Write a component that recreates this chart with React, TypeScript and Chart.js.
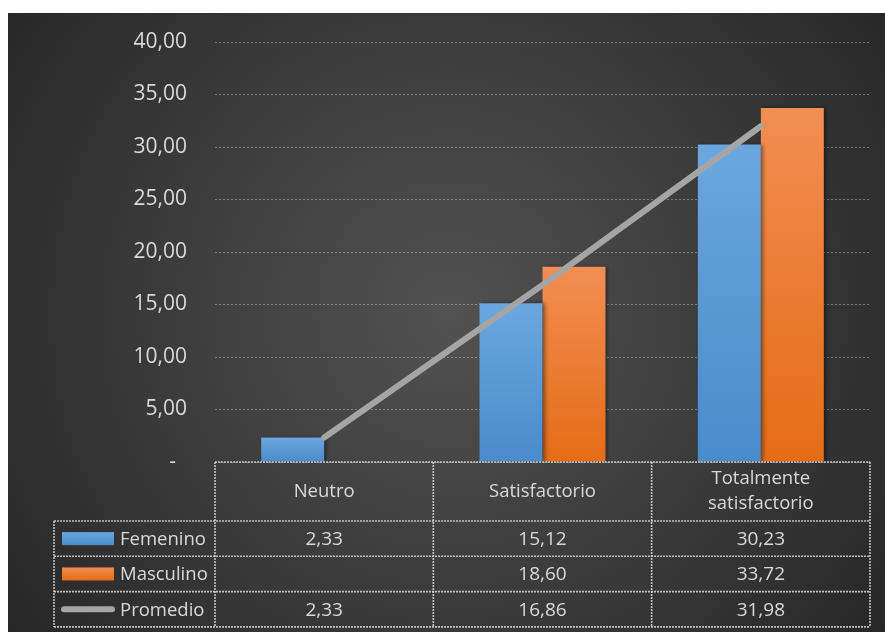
import React, { useEffect, useRef } from "react";
import { Chart, registerables } from "chart.js";

Chart.register(...registerables);

const categories: (string | string[])[] = ["Neutro", "Satisfactorio", ["Totalmente", "satisfactorio"]];
const femenino: (number | null)[] = [2.33, 15.12, 30.23];
const masculino: (number | null)[] = [null, 18.6, 33.72];
const promedio: (number | null)[] = [2.33, 16.86, 31.98];
const yTicks = { min: 0, max: 40, step: 5 };

const FONT = "'Open Sans', 'DejaVu Sans', sans-serif";
const TEXT = "#D9D9D9";
const BLUE_TOP = "#6BA7DF";
const BLUE_BOT = "#4A8BCB";
const ORANGE_TOP = "#F28E52";
const ORANGE_BOT = "#E46C16";
const LINE = "#A5A5A5";

const fmt = (v: number | null) => (v === null || v === undefined ? "" : v.toFixed(2).replace(".", ","));

function barGradient(top: string, bot: string) {
  return (ctx: any) => {
    const chart = ctx.chart;
    const ys = chart.scales?.y;
    const v = ctx.raw;
    if (!ys || v === null || v === undefined || ctx.type !== "data") return bot;
    const y0 = ys.getPixelForValue(v);
    const y1 = ys.getPixelForValue(0);
    if (!isFinite(y0) || !isFinite(y1) || y0 === y1) return bot;
    const g = chart.ctx.createLinearGradient(0, y0, 0, y1);
    g.addColorStop(0, top);
    g.addColorStop(1, bot);
    return g;
  };
}

const bgPlugin = {
  id: "bg",
  beforeDraw(chart: any) {
    const { ctx, width, height } = chart;
    ctx.save();
    const g = ctx.createRadialGradient(440, 300, 0, 440, 300, 580);
    g.addColorStop(0, "#525252");
    g.addColorStop(1, "#242424");
    ctx.fillStyle = g;
    ctx.fillRect(0, 0, width, height);
    ctx.restore();
  },
};

const shadowPlugin = {
  id: "barShadow",
  beforeDatasetDraw(chart: any, args: any) {
    if (chart.data.datasets[args.index].type === "bar") {
      const ctx = chart.ctx;
      ctx.save();
      ctx.shadowColor = "rgba(0,0,0,0.45)";
      ctx.shadowBlur = 4;
      ctx.shadowOffsetX = 2;
      ctx.shadowOffsetY = 0;
    }
  },
  afterDatasetDraw(chart: any, args: any) {
    if (chart.data.datasets[args.index].type === "bar") chart.ctx.restore();
  },
};

const tablePlugin = {
  id: "dataTable",
  afterDraw(chart: any) {
    const { ctx, chartArea: a } = chart;
    const xs = chart.scales.x;
    const n = categories.length;
    const colW = (a.right - a.left) / n;
    const headTop = a.bottom;
    const headBot = headTop + 59;
    const rowH = 35.3;
    const legLeft = 46;
    const rows = [
      { label: "Femenino", data: femenino, key: "blue" },
      { label: "Masculino", data: masculino, key: "orange" },
      { label: "Promedio", data: promedio, key: "line" },
    ];
    const tableBot = headBot + rowH * rows.length;

    ctx.save();
    ctx.strokeStyle = "rgba(220,220,220,0.85)";
    ctx.lineWidth = 1.6;
    ctx.setLineDash([2, 1]);
    const line = (x1: number, y1: number, x2: number, y2: number) => {
      ctx.beginPath();
      ctx.moveTo(x1, y1);
      ctx.lineTo(x2, y2);
      ctx.stroke();
    };
    line(a.left, headTop, a.right, headTop);
    for (let r = 0; r <= rows.length; r++) {
      const y = headBot + r * rowH;
      line(legLeft, y, a.right, y);
    }
    for (let c = 0; c <= n; c++) {
      const x = a.left + c * colW;
      line(x, headTop, x, tableBot);
    }
    line(legLeft, headBot, legLeft, tableBot);
    ctx.setLineDash([]);

    ctx.fillStyle = TEXT;
    ctx.textAlign = "center";
    ctx.textBaseline = "middle";
    ctx.font = `18.5px ${FONT}`;
    categories.forEach((cat, i) => {
      const cx = xs.getPixelForValue(i);
      const lines = Array.isArray(cat) ? cat : [cat];
      const lh = 25;
      const cy = (headTop + headBot) / 2;
      lines.forEach((t, j) => {
        ctx.fillText(t, cx, cy + (j - (lines.length - 1) / 2) * lh);
      });
    });

    rows.forEach((row, r) => {
      const cy = headBot + r * rowH + rowH / 2;
      ctx.font = `19px ${FONT}`;
      row.data.forEach((v, i) => {
        ctx.textAlign = "center";
        ctx.fillText(fmt(v), xs.getPixelForValue(i), cy + 1);
      });
      const kx = 54;
      const kw = 52;
      if (row.key === "line") {
        ctx.strokeStyle = LINE;
        ctx.lineWidth = 6;
        ctx.lineCap = "round";
        ctx.beginPath();
        ctx.moveTo(kx + 2, cy);
        ctx.lineTo(kx + kw - 2, cy);
        ctx.stroke();
      } else {
        const g = ctx.createLinearGradient(0, cy - 6.5, 0, cy + 6.5);
        g.addColorStop(0, row.key === "blue" ? BLUE_TOP : ORANGE_TOP);
        g.addColorStop(1, row.key === "blue" ? BLUE_BOT : ORANGE_BOT);
        ctx.fillStyle = g;
        ctx.fillRect(kx, cy - 6.5, kw, 13);
      }
      ctx.fillStyle = TEXT;
      ctx.textAlign = "left";
      ctx.font = `18.5px ${FONT}`;
      ctx.fillText(row.label, 112, cy + 1);
    });
    ctx.restore();
  },
};

export default function App() {
  const ref = useRef<HTMLCanvasElement>(null);
  useEffect(() => {
    if (!ref.current) return;
    const labels = categories.map((c) => (Array.isArray(c) ? c.join(" ") : c));
    const chart = new Chart(ref.current, {
      type: "bar",
      data: {
        labels,
        datasets: [
          {
            type: "line",
            label: "Promedio",
            data: promedio,
            borderColor: LINE,
            backgroundColor: LINE,
            borderWidth: 6,
            pointRadius: 0,
            borderCapStyle: "round",
            borderJoinStyle: "round",
            order: 0,
          } as any,
          {
            type: "bar",
            label: "Femenino",
            data: femenino,
            backgroundColor: barGradient(BLUE_TOP, BLUE_BOT),
            borderWidth: 0,
            categoryPercentage: 0.577,
            barPercentage: 1,
            order: 1,
          } as any,
          {
            type: "bar",
            label: "Masculino",
            data: masculino,
            backgroundColor: barGradient(ORANGE_TOP, ORANGE_BOT),
            borderWidth: 0,
            categoryPercentage: 0.577,
            barPercentage: 1,
            order: 1,
          } as any,
        ],
      },
      options: {
        responsive: false,
        animation: false,
        layout: { padding: { left: 0, right: 15, top: 29, bottom: 170 } },
        plugins: { legend: { display: false }, tooltip: { enabled: false } },
        scales: {
          x: { display: false, offset: true },
          y: {
            min: yTicks.min,
            max: yTicks.max,
            afterFit: (s: any) => {
              s.width = 207;
            },
            border: { display: false, dash: [2, 2] },
            grid: {
              color: "rgba(210,210,210,0.45)",
              tickColor: "rgba(0,0,0,0)",
              lineWidth: 1,
              drawTicks: true,
              tickLength: 24,
            },
            ticks: {
              stepSize: yTicks.step,
              padding: 4,
              color: TEXT,
              font: { family: FONT, size: 21 },
              callback: (v: any) => (Number(v) === 0 ? "-  " : fmt(Number(v))),
            },
          } as any,
        },
      },
      plugins: [bgPlugin, shadowPlugin, tablePlugin],
    });
    return () => chart.destroy();
  }, []);
  return (
    <div style={{ position: "fixed", left: 8, top: 13, width: 877, height: 619 }}>
      <canvas ref={ref} width={877} height={619} style={{ display: "block" }} />
    </div>
  );
}
